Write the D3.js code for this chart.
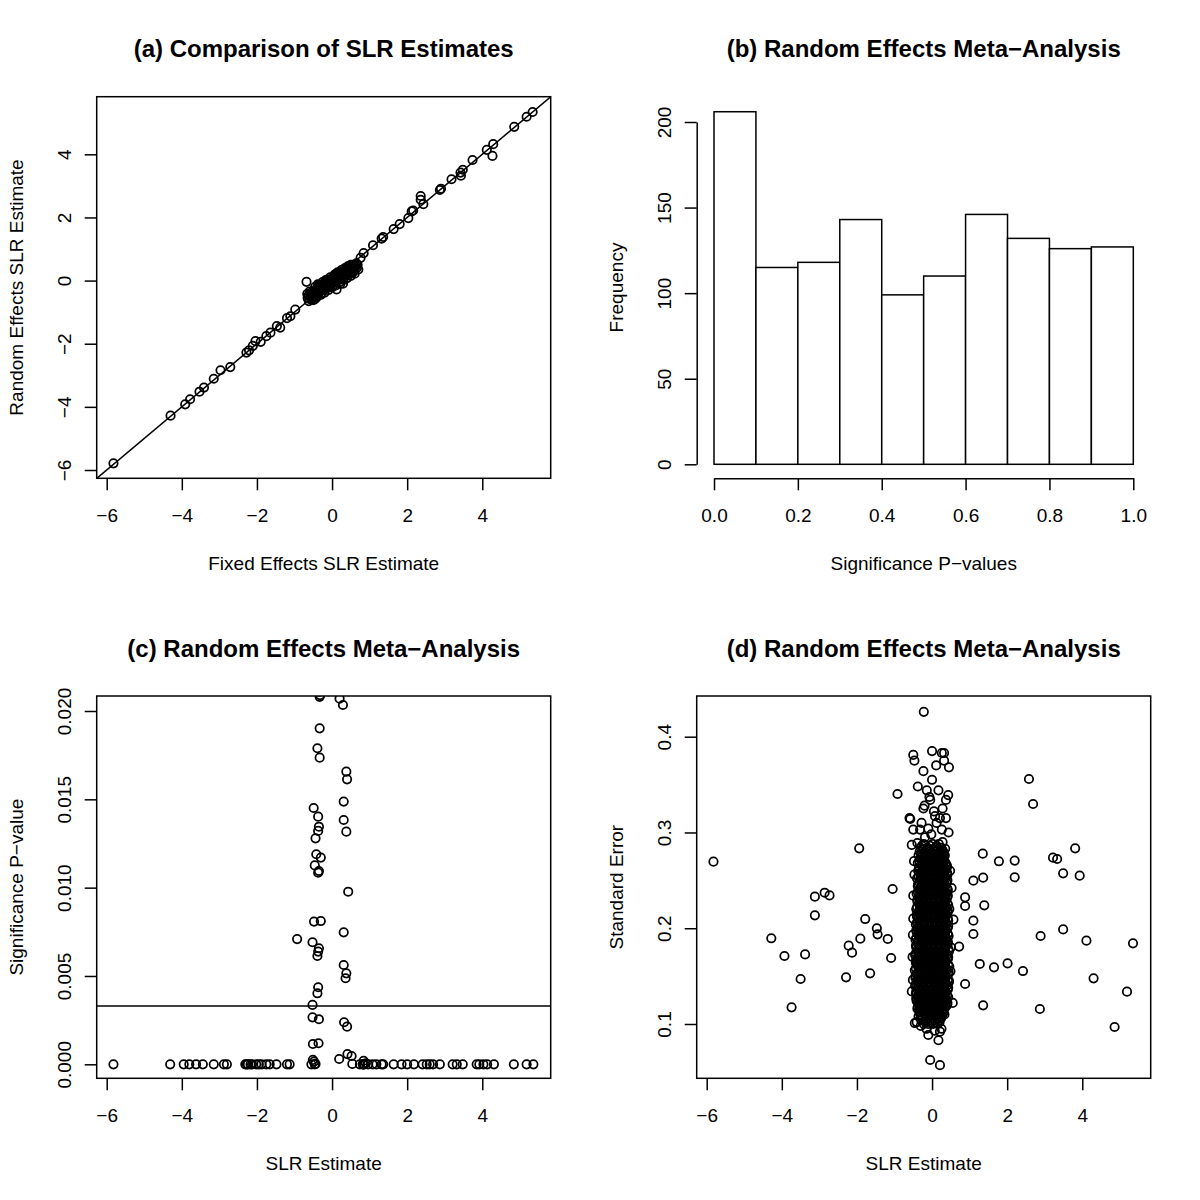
<!DOCTYPE html>
<html><head><meta charset="utf-8">
<script src="https://cdn.jsdelivr.net/npm/d3@7"></script>
<style>
body{margin:0;background:#fff}
svg text{font-family:"Liberation Sans",Arial,Helvetica,sans-serif;fill:#000}
</style>
</head><body>
<svg id="chart" width="1200" height="1200"></svg>
<script>
// ---------------- DATA ----------------
// (a) fixed-effects vs random-effects SLR estimates [fixed, random]
const pointsA = [
 [-5.82,-5.79],[-4.30,-4.28],[-3.91,-3.92],[-3.78,-3.76],[-3.53,-3.52],[-3.41,-3.39],[-3.15,-3.11],[-2.97,-2.84],
 [-2.71,-2.74],[-2.28,-2.28],[-2.21,-2.21],[-2.11,-2.07],[-2.04,-1.92],[-1.90,-1.94],[-1.75,-1.76],[-1.64,-1.65],
 [-1.47,-1.44],[-1.38,-1.49],[-1.20,-1.19],[-1.11,-1.13],[-0.98,-0.92],[-0.68,-0.04],[0.12,-0.28],[0.29,-0.10],
 [0.76,0.72],[0.84,0.87],[1.09,1.12],[1.32,1.33],[1.36,1.38],[1.64,1.63],[1.80,1.79],[2.03,1.98],[2.12,2.19],
 [2.16,2.22],[2.36,2.68],[2.36,2.56],[2.43,2.42],[2.87,2.87],[2.90,2.91],[3.18,3.21],[3.42,3.42],[3.48,3.51],
 [3.43,3.32],[3.74,3.82],[4.12,4.14],[4.29,4.32],[4.27,3.95],[4.85,4.87],[5.18,5.19],[5.34,5.34],
 // central cluster
 [-0.65,-0.55],[-0.62,-0.47],[-0.60,-0.58],[-0.58,-0.42],[-0.57,-0.50],[-0.55,-0.38],[-0.53,-0.47],[-0.52,-0.55],
 [-0.50,-0.33],[-0.49,-0.42],[-0.47,-0.50],[-0.45,-0.30],[-0.44,-0.38],[-0.42,-0.45],[-0.41,-0.25],[-0.40,-0.33],
 [-0.38,-0.40],[-0.37,-0.22],[-0.35,-0.30],[-0.34,-0.37],[-0.32,-0.18],[-0.31,-0.27],[-0.30,-0.33],[-0.28,-0.15],
 [-0.27,-0.24],[-0.26,-0.30],[-0.24,-0.12],[-0.23,-0.20],[-0.22,-0.27],[-0.20,-0.08],[-0.19,-0.16],[-0.18,-0.24],
 [-0.16,-0.05],[-0.15,-0.13],[-0.14,-0.20],[-0.12,-0.02],[-0.11,-0.10],[-0.10,-0.17],[-0.08,0.01],[-0.07,-0.07],
 [-0.06,-0.14],[-0.04,0.04],[-0.03,-0.04],[-0.02,-0.11],[0.00,0.07],[0.01,-0.01],[0.02,-0.08],[0.04,0.10],
 [0.05,0.02],[0.06,-0.05],[0.08,0.13],[0.09,0.05],[0.10,-0.02],[0.12,0.16],[0.13,0.08],[0.14,0.01],[0.16,0.19],
 [0.17,0.11],[0.18,0.04],[0.20,0.22],[0.21,0.14],[0.22,0.07],[0.24,0.25],[0.25,0.17],[0.26,0.10],[0.28,0.28],
 [0.29,0.20],[0.30,0.13],[0.32,0.30],[0.33,0.23],[0.35,0.16],[0.37,0.33],[0.38,0.26],[0.40,0.19],[0.42,0.36],
 [0.43,0.29],[0.45,0.22],[0.47,0.39],[0.48,0.31],[0.50,0.25],[0.52,0.41],[0.54,0.33],[0.56,0.27],[0.58,0.44],
 [0.60,0.36],[0.63,0.46],[0.66,0.40],[0.68,0.50],[-0.33,-0.22],[-0.21,-0.13],[-0.09,-0.05],[0.03,0.03],
 [0.15,0.10],[0.27,0.15],[-0.25,-0.19],[-0.13,-0.09],[0.07,0.04],[0.19,0.16],[0.11,0.09],[-0.01,0.02],
 [-0.17,-0.11],[0.23,0.12],[0.36,0.27],[-0.43,-0.34],[0.12,0.22],[-0.15,-0.24],
 [-0.60,-0.35],[-0.55,-0.60],[-0.50,-0.62],[-0.45,-0.20],[-0.40,-0.52],[-0.35,-0.14],[-0.30,-0.45],[-0.25,-0.05],
 [-0.20,-0.38],[-0.15,0.02],[-0.10,-0.30],[-0.05,0.10],[0.00,-0.22],[0.05,0.16],[0.10,-0.15],[0.15,0.26],
 [0.20,-0.05],[0.25,0.33],[0.30,0.02],[0.35,0.40],[0.40,0.08],[0.45,0.46],[0.50,0.15],[0.55,0.50],[0.60,0.22],
 [0.65,0.55],[0.70,0.35],[-0.62,-0.65],[-0.66,-0.42],[0.50,0.50],[-0.05,-0.20],[0.08,0.20],[-0.28,-0.40],
 [0.30,0.35],[-0.45,-0.58],[0.22,-0.10],[-0.38,-0.12],[0.42,0.45],[0.02,-0.18],[-0.18,0.00]
];

// (b) histogram of significance p-values
const binEdgesB = [0,0.1,0.2,0.3,0.4,0.5,0.6,0.7,0.8,0.9,1.0];
const countsB = [206,115,118,143,99,110,146,132,126,127];

// (c) SLR estimate vs significance p-value [estimate, p]
const pointsC = [
 [-0.33,0.0208],[-0.32,0.0209],[-0.34,0.0211],[0.20,0.0207],[0.29,0.02034],
 [-0.33,0.01902],[-0.39,0.01789],[-0.33,0.01736],[0.38,0.01657],[0.40,0.01613],[0.31,0.01487],[-0.49,0.01451],
 [-0.37,0.01402],[0.31,0.01383],[-0.35,0.01345],[-0.37,0.01321],[0.38,0.01317],[-0.44,0.01279],[-0.42,0.01189],
 [-0.30,0.0117],[-0.46,0.01126],[-0.35,0.01094],[-0.37,0.01085],[0.43,0.00977],[-0.48,0.00808],[-0.30,0.00811],
 [0.31,0.00747],[-0.93,0.00709],[-0.52,0.00691],[-0.35,0.00657],[-0.37,0.00638],[-0.39,0.00613],[0.31,0.00562],
 [0.38,0.00515],[0.36,0.00487],[-0.37,0.00436],[-0.39,0.00402],[-0.52,0.00336],[-0.52,0.00266],[-0.35,0.00255],
 [0.32,0.00238],[0.40,0.00213],[-0.51,0.00115],[-0.36,0.00119],[-0.51,0.00025],[-0.48,0.00015],[-0.44,0.00002],
 [0.19,0.0003],[0.41,0.00058],[0.52,0.00047],[0.54,0.00002],[0.84,0.0002],[0.90,0.00006],
 [-5.82,0],[-4.31,0],[-3.95,0],[-3.80,0],[-3.62,0],[-3.44,0],[-3.15,0],[-2.88,0],[-2.80,0],[-2.31,0],[-2.27,0],
 [-2.24,0],[-2.17,0],[-2.13,0],[-2.02,0],[-1.95,0],[-1.88,0],[-1.75,0],[-1.66,0],[-1.48,0],[-1.20,0],[-1.13,0],
 [-0.55,0],[-0.46,0],[0.74,0],[0.82,0],[0.83,0],[0.86,0],[0.96,0],[1.08,0],[1.18,0],[1.32,0],[1.36,0],[1.64,0],
 [1.85,0],[2.00,0],[2.18,0],[2.41,0],[2.52,0],[2.60,0],[2.69,0],[2.87,0],[3.21,0],[3.32,0],[3.48,0],[3.85,0],
 [3.92,0],[4.03,0],[4.13,0],[4.31,0],[4.84,0],[5.18,0],[5.36,0]
];
const thresholdC = 0.0033;

// (d) SLR estimate vs standard error [estimate, se]
const outliersD = [
 [-5.82,0.2695],[-4.28,0.1895],[-3.93,0.171],[-3.74,0.1174],[-3.50,0.147],[-3.38,0.1727],[-3.12,0.233],
 [-3.12,0.2135],[-2.86,0.2371],[-2.73,0.2343],[-2.29,0.1487],[-2.22,0.1818],[-2.13,0.1745],[-1.94,0.2834],
 [-1.91,0.1891],[-1.78,0.2096],[-1.65,0.1529],[-1.47,0.1999],[-1.45,0.1936],[-1.18,0.1888],[-1.09,0.1689],
 [-1.05,0.241],[-0.92,0.3402],[-0.58,0.3141],[0.72,0.1808],[0.88,0.2323],[0.88,0.2232],[0.88,0.1418],
 [1.10,0.2079],[1.10,0.194],[1.10,0.2497],[1.27,0.1627],[1.35,0.2779],[1.36,0.2528],[1.39,0.2239],[1.36,0.1195],
 [1.65,0.1592],[1.78,0.2699],[2.01,0.1633],[2.20,0.2706],[2.20,0.2532],[2.42,0.1553],[2.58,0.3558],[2.69,0.3297],
 [2.87,0.1157],[2.89,0.1919],[3.22,0.2737],[3.33,0.2723],[3.49,0.2573],[3.49,0.1988],[3.81,0.2834],[3.93,0.2549],
 [4.11,0.187],[4.30,0.1477],[4.86,0.0969],[5.19,0.1338],[5.35,0.1842]
];
const fringeD = [
 [-0.22,0.426],[-0.50,0.381],[-0.47,0.375],[0.00,0.385],[0.26,0.383],[0.32,0.383],[0.32,0.375],[0.11,0.370],
 [0.45,0.368],[-0.23,0.364],[0.00,0.355],[-0.38,0.348],[-0.14,0.344],[-0.07,0.337],[0.17,0.344],[-0.05,0.334],
 [-0.20,0.328],[-0.23,0.325],[0.43,0.339],[0.37,0.334],[-0.60,0.315],[0.08,0.317],[0.21,0.315],[0.37,0.315],
 [-0.50,0.303],[-0.32,0.303],[-0.10,0.304],[0.26,0.303],[-0.54,0.287],[-0.39,0.289],[-0.19,0.295],[0.28,0.290],
 [0.35,0.283],[-0.41,0.102],[-0.10,0.0885],[0.21,0.092],[0.17,0.083],[-0.05,0.0624],[0.21,0.057],[-0.46,0.101],
 [0.57,0.209],[0.46,0.220],[0.55,0.122],[-0.51,0.193],[-0.51,0.146],[-0.54,0.134],[-0.42,0.127],[0.45,0.145],
 [0.52,0.242],[0.48,0.260],[-0.47,0.256],[-0.50,0.234],[-0.48,0.270],[0.44,0.300],[-0.02,0.298],[0.12,0.310],
 [-0.28,0.310],[0.05,0.322],[0.28,0.325],[0.50,0.180],[-0.52,0.170],[0.49,0.155],[-0.50,0.210],[0.25,0.095],
 [-0.30,0.098],[0.07,0.093],[-0.15,0.095],[0.33,0.110]
];
// dense core of (d): standard-error rows and the estimates read along each row
const coreSeD = [0.288,0.284,0.280,0.276,0.272,0.268,0.264,0.260,0.256,0.252,0.248,0.244,0.240,0.236,0.232,0.228,
 0.224,0.220,0.216,0.212,0.208,0.204,0.200,0.196,0.192,0.188,0.184,0.180,0.176,0.172,0.168,0.164,0.160,0.156,0.152,
 0.148,0.144,0.140,0.136,0.132,0.128,0.124,0.120,0.116,0.112,0.108,0.104,0.100];
const coreEstD = [
 [-0.22,0.02,0.18],[-0.30,-0.12,0.08,0.24],[-0.33,-0.20,-0.05,0.10,0.21,0.30],
 [-0.36,-0.25,-0.13,0.00,0.13,0.26,0.34],[-0.31,-0.18,-0.07,0.06,0.18,0.30],
 [-0.38,-0.26,-0.12,0.01,0.12,0.24,0.36],[-0.33,-0.20,-0.06,0.07,0.19,0.31,0.40],
 [-0.37,-0.25,-0.14,-0.01,0.13,0.25,0.35],[-0.31,-0.19,-0.07,0.05,0.18,0.30,0.41],
 [-0.40,-0.27,-0.13,0.00,0.11,0.24,0.36],[-0.34,-0.21,-0.08,0.06,0.17,0.29,0.39],
 [-0.38,-0.26,-0.15,-0.02,0.12,0.23,0.35],[-0.32,-0.19,-0.06,0.07,0.19,0.31,0.42],
 [-0.41,-0.27,-0.13,0.01,0.13,0.25,0.37],[-0.35,-0.22,-0.09,0.05,0.18,0.30,0.40],
 [-0.39,-0.28,-0.15,-0.03,0.11,0.24,0.35],[-0.33,-0.20,-0.07,0.07,0.19,0.31,0.43],
 [-0.42,-0.27,-0.12,0.02,0.14,0.26,0.37],[-0.36,-0.22,-0.09,0.05,0.17,0.30,0.41],
 [-0.40,-0.29,-0.16,-0.02,0.11,0.23,0.35],[-0.34,-0.21,-0.08,0.06,0.19,0.32,0.43],
 [-0.43,-0.27,-0.13,0.00,0.13,0.25,0.38],[-0.37,-0.23,-0.10,0.04,0.17,0.29,0.41],
 [-0.41,-0.30,-0.16,-0.03,0.10,0.22,0.35],[-0.35,-0.20,-0.07,0.06,0.19,0.31,0.44],
 [-0.44,-0.28,-0.13,0.01,0.14,0.26,0.38],[-0.38,-0.23,-0.09,0.04,0.17,0.30,0.42],
 [-0.42,-0.31,-0.17,-0.04,0.10,0.23,0.35],[-0.36,-0.21,-0.07,0.07,0.20,0.32,0.45],
 [-0.45,-0.29,-0.14,0.00,0.13,0.26,0.39],[-0.39,-0.24,-0.10,0.04,0.16,0.29,0.42],
 [-0.43,-0.32,-0.18,-0.05,0.09,0.22,0.35],[-0.37,-0.22,-0.08,0.06,0.19,0.32,0.46],
 [-0.46,-0.30,-0.15,-0.01,0.13,0.26,0.39],[-0.40,-0.25,-0.11,0.03,0.16,0.29,0.43],
 [-0.44,-0.33,-0.19,-0.05,0.09,0.22,0.36],[-0.38,-0.23,-0.08,0.06,0.19,0.32,0.45],
 [-0.45,-0.30,-0.15,-0.02,0.12,0.25,0.39],[-0.39,-0.25,-0.11,0.03,0.16,0.29,0.42],
 [-0.43,-0.32,-0.18,-0.05,0.08,0.22,0.35],[-0.37,-0.22,-0.08,0.06,0.19,0.31,0.43],
 [-0.41,-0.29,-0.15,-0.01,0.12,0.25,0.37],[-0.35,-0.24,-0.10,0.03,0.16,0.28,0.40],
 [-0.39,-0.30,-0.17,-0.04,0.09,0.21,0.33],[-0.33,-0.22,-0.08,0.05,0.18,0.30],
 [-0.36,-0.27,-0.14,-0.01,0.12,0.24],[-0.29,-0.18,-0.05,0.08,0.19],[-0.22,-0.10,0.03,0.15]
];
// further core rows between the ones above
const coreSeD2 = [0.286,0.282,0.278,0.274,0.270,0.266,0.262,0.258,0.254,0.250,0.246,0.242,0.238,0.234,0.230,0.226,
 0.222,0.218,0.214,0.210,0.206,0.202,0.198,0.194,0.190,0.186,0.182,0.178,0.174,0.170,0.166,0.162,0.158,0.154,0.150,
 0.146,0.142,0.138,0.134,0.130,0.126,0.122,0.118,0.114,0.110,0.106,0.102];
const coreEstD2 = [
 [-0.27,-0.06,0.12],[-0.24,-0.09,0.04,0.17,0.27],[-0.28,-0.16,-0.03,0.07,0.20,0.31],
 [-0.30,-0.20,-0.07,0.04,0.16,0.28],[-0.34,-0.24,-0.10,0.00,0.11,0.22,0.33],
 [-0.29,-0.17,-0.05,0.07,0.18,0.29,0.39],[-0.35,-0.23,-0.11,0.01,0.12,0.24,0.35],
 [-0.30,-0.18,-0.06,0.06,0.19,0.30,0.40],[-0.36,-0.24,-0.12,-0.01,0.12,0.24,0.35],
 [-0.31,-0.19,-0.05,0.07,0.18,0.30,0.41],[-0.37,-0.25,-0.13,0.00,0.11,0.23,0.34],
 [-0.32,-0.20,-0.08,0.05,0.18,0.29,0.40],[-0.38,-0.25,-0.12,0.01,0.13,0.25,0.36],
 [-0.33,-0.20,-0.06,0.07,0.19,0.31,0.42],[-0.39,-0.27,-0.14,-0.01,0.12,0.24,0.36],
 [-0.34,-0.21,-0.08,0.05,0.18,0.30,0.41],[-0.40,-0.26,-0.13,0.00,0.13,0.25,0.37],
 [-0.35,-0.21,-0.07,0.06,0.18,0.31,0.42],[-0.41,-0.28,-0.14,-0.01,0.12,0.24,0.36],
 [-0.36,-0.22,-0.09,0.05,0.18,0.30,0.42],[-0.40,-0.27,-0.14,0.00,0.12,0.25,0.37],
 [-0.36,-0.22,-0.08,0.06,0.19,0.31,0.43],[-0.42,-0.28,-0.15,-0.02,0.11,0.24,0.37],
 [-0.37,-0.23,-0.10,0.04,0.18,0.30,0.42],[-0.42,-0.29,-0.16,-0.02,0.12,0.25,0.38],
 [-0.37,-0.23,-0.10,0.05,0.17,0.30,0.42],[-0.43,-0.29,-0.15,-0.02,0.12,0.25,0.38],
 [-0.38,-0.24,-0.10,0.04,0.17,0.31,0.44],[-0.43,-0.30,-0.16,-0.02,0.11,0.24,0.37],
 [-0.38,-0.25,-0.11,0.03,0.17,0.30,0.43],[-0.43,-0.30,-0.17,-0.03,0.11,0.24,0.37],
 [-0.39,-0.25,-0.11,0.03,0.16,0.30,0.43],[-0.43,-0.31,-0.17,-0.03,0.11,0.24,0.38],
 [-0.38,-0.24,-0.10,0.04,0.17,0.31,0.44],[-0.44,-0.31,-0.17,-0.03,0.10,0.23,0.37],
 [-0.39,-0.25,-0.12,0.02,0.16,0.29,0.42],[-0.43,-0.30,-0.16,-0.03,0.11,0.24,0.38],
 [-0.38,-0.24,-0.10,0.04,0.17,0.30,0.43],[-0.42,-0.30,-0.17,-0.03,0.10,0.23,0.36],
 [-0.37,-0.25,-0.11,0.02,0.16,0.28,0.40],[-0.41,-0.29,-0.15,-0.02,0.11,0.24,0.37],
 [-0.36,-0.23,-0.09,0.04,0.17,0.30,0.41],[-0.38,-0.27,-0.13,0.00,0.12,0.25,0.36],
 [-0.34,-0.21,-0.09,0.04,0.16,0.28],[-0.31,-0.20,-0.07,0.06,0.18,0.28],
 [-0.27,-0.13,0.00,0.13,0.24],[-0.18,-0.06,0.08,0.20]
];

// tick values / labels
const ticksEst = [-6,-4,-2,0,2,4];
const ticksPB = [0,0.2,0.4,0.6,0.8,1.0];
const ticksFreq = [0,50,100,150,200];
const ticksPC = [0,0.005,0.010,0.015,0.020];
const ticksSE = [0.1,0.2,0.3,0.4];

const titles = ["(a) Comparison of SLR Estimates","(b) Random Effects Meta\u2212Analysis",
                "(c) Random Effects Meta\u2212Analysis","(d) Random Effects Meta\u2212Analysis"];
const xLabels = ["Fixed Effects SLR Estimate","Significance P\u2212values","SLR Estimate","SLR Estimate"];
const yLabels = ["Random Effects SLR Estimate","Frequency","Significance P\u2212value","Standard Error"];

// ---------------- LAYOUT ----------------
const svg = d3.select("#chart");
const LW = 1.5, FS = 19, TFS = 24, R = 4.2, CW = 1.75, TICK = 12;
const cols = [{l:96.7, r:550.7}, {l:696.7, r:1150.7}];
const rows = [{t:96.7, b:478.3}, {t:696, b:1078.3}];

const xA = d3.scaleLinear().domain([-6,4]).range([106.7,482.3]);
const yA = d3.scaleLinear().domain([-6,4]).range([470,154.3]);
const xB = d3.scaleLinear().domain([0,1]).range([714,1133.3]);
const yB = d3.scaleLinear().domain([0,200]).range([464.3,122]);
const xC = d3.scaleLinear().domain([-6,4]).range([106.7,482.3]);
const yC = d3.scaleLinear().domain([0,0.02]).range([1064.3,711]);
const xD = d3.scaleLinear().domain([-6,4]).range([706.7,1082.3]);
const yD = d3.scaleLinear().domain([0.1,0.4]).range([1024,736.7]);

const defs = svg.append("defs");
function clipFor(id, c, r){
  defs.append("clipPath").attr("id",id).append("rect")
    .attr("x",c.l).attr("y",r.t).attr("width",c.r-c.l).attr("height",r.b-r.t);
  return "url(#"+id+")";
}
function drawBox(c, r){
  svg.append("rect").attr("x",c.l).attr("y",r.t).attr("width",c.r-c.l).attr("height",r.b-r.t)
    .attr("fill","none").attr("stroke","#000").attr("stroke-width",LW);
}
function styleAxis(g, keepDomain){
  g.attr("font-size",FS).attr("font-family",null);
  g.selectAll("line").attr("stroke","#000").attr("stroke-width",LW);
  g.select(".domain").attr("stroke","#000").attr("stroke-width",LW);
  if(!keepDomain) g.select(".domain").remove();
  g.selectAll("text").attr("fill","#000");
}
function bottomAxis(scale, ticks, y, fmt, keepDomain){
  const g = svg.append("g").attr("transform",`translate(0,${y})`)
    .call(d3.axisBottom(scale).tickValues(ticks).tickSize(TICK).tickSizeOuter(0).tickPadding(0).tickFormat(fmt));
  styleAxis(g, keepDomain);
  g.selectAll("text").attr("dy",null).attr("y",43.7);
}
function leftAxis(scale, ticks, x, fmt, keepDomain){
  const g = svg.append("g").attr("transform",`translate(${x},0)`)
    .call(d3.axisLeft(scale).tickValues(ticks).tickSize(TICK).tickSizeOuter(0).tickPadding(0).tickFormat(fmt));
  styleAxis(g, keepDomain);
  g.selectAll("text").attr("x",null).attr("dy",null).attr("text-anchor","middle")
    .attr("transform","translate(-26.2,0) rotate(-90)");
}
function title(i, cx, y){
  svg.append("text").attr("x",cx).attr("y",y).attr("text-anchor","middle")
    .attr("font-size",TFS).attr("font-weight","bold").text(titles[i]);
}
function xlab(i, cx, y){
  svg.append("text").attr("x",cx).attr("y",y).attr("text-anchor","middle").attr("font-size",FS).text(xLabels[i]);
}
function ylab(i, x, cy){
  svg.append("text").attr("transform",`translate(${x},${cy}) rotate(-90)`).attr("text-anchor","middle")
    .attr("font-size",FS).text(yLabels[i]);
}
function circles(data, xs, ys, clip){
  svg.append("g").attr("clip-path",clip).selectAll("circle").data(data).join("circle")
    .attr("cx",d=>xs(d[0])).attr("cy",d=>ys(d[1])).attr("r",R)
    .attr("fill","none").attr("stroke","#000").attr("stroke-width",CW);
}
const fmtEst = d => d3.format("d")(d);

// ---------- (a) ----------
{
  const c = cols[0], r = rows[0];
  const clip = clipFor("clipA", c, r);
  circles(pointsA, xA, yA, clip);
  svg.append("path").attr("clip-path",clip)
    .attr("d", d3.line().x(d=>xA(d)).y(d=>yA(d))([-8,8]))
    .attr("stroke","#000").attr("stroke-width",LW).attr("fill","none");
  drawBox(c, r);
  bottomAxis(xA, ticksEst, r.b, fmtEst, false);
  leftAxis(yA, ticksEst, c.l, fmtEst, false);
  const cx = (c.l+c.r)/2, cy = (r.t+r.b)/2;
  title(0, cx, 57); xlab(0, cx, 570); ylab(0, 23, cy);
}
// ---------- (b) ----------
{
  const c = cols[1], r = rows[0];
  const bins = countsB.map((n,i)=>({x0:binEdgesB[i], x1:binEdgesB[i+1], n}));
  svg.append("g").selectAll("rect").data(bins).join("rect")
    .attr("x",d=>xB(d.x0)).attr("width",d=>xB(d.x1)-xB(d.x0))
    .attr("y",d=>yB(d.n)).attr("height",d=>yB(0)-yB(d.n))
    .attr("fill","#fff").attr("stroke","#000").attr("stroke-width",LW);
  bottomAxis(xB, ticksPB, r.b, d3.format(".1f"), true);
  leftAxis(yB, ticksFreq, c.l, d3.format("d"), true);
  const cx = (c.l+c.r)/2, cy = (r.t+r.b)/2;
  title(1, cx, 57); xlab(1, cx, 570); ylab(1, 623, cy);
}
// ---------- (c) ----------
{
  const c = cols[0], r = rows[1];
  const clip = clipFor("clipC", c, r);
  circles(pointsC, xC, yC, clip);
  svg.append("line").attr("clip-path",clip)
    .attr("x1",xC(-8)).attr("x2",xC(8)).attr("y1",yC(thresholdC)).attr("y2",yC(thresholdC))
    .attr("stroke","#000").attr("stroke-width",LW);
  drawBox(c, r);
  bottomAxis(xC, ticksEst, r.b, fmtEst, false);
  leftAxis(yC, ticksPC, c.l, d3.format(".3f"), false);
  const cx = (c.l+c.r)/2, cy = (r.t+r.b)/2;
  title(2, cx, 657); xlab(2, cx, 1170); ylab(2, 23, cy);
}
// ---------- (d) ----------
{
  const c = cols[1], r = rows[1];
  const clip = clipFor("clipD", c, r);
  const core = [];
  coreSeD.forEach((se,i)=>coreEstD[i].forEach(x=>core.push([x,se])));
  coreSeD2.forEach((se,i)=>coreEstD2[i].forEach(x=>core.push([x,se])));
  circles(outliersD.concat(fringeD, core), xD, yD, clip);
  drawBox(c, r);
  bottomAxis(xD, ticksEst, r.b, fmtEst, false);
  leftAxis(yD, ticksSE, c.l, d3.format(".1f"), false);
  const cx = (c.l+c.r)/2, cy = (r.t+r.b)/2;
  title(3, cx, 657); xlab(3, cx, 1170); ylab(3, 623, cy);
}
</script>
</body></html>
